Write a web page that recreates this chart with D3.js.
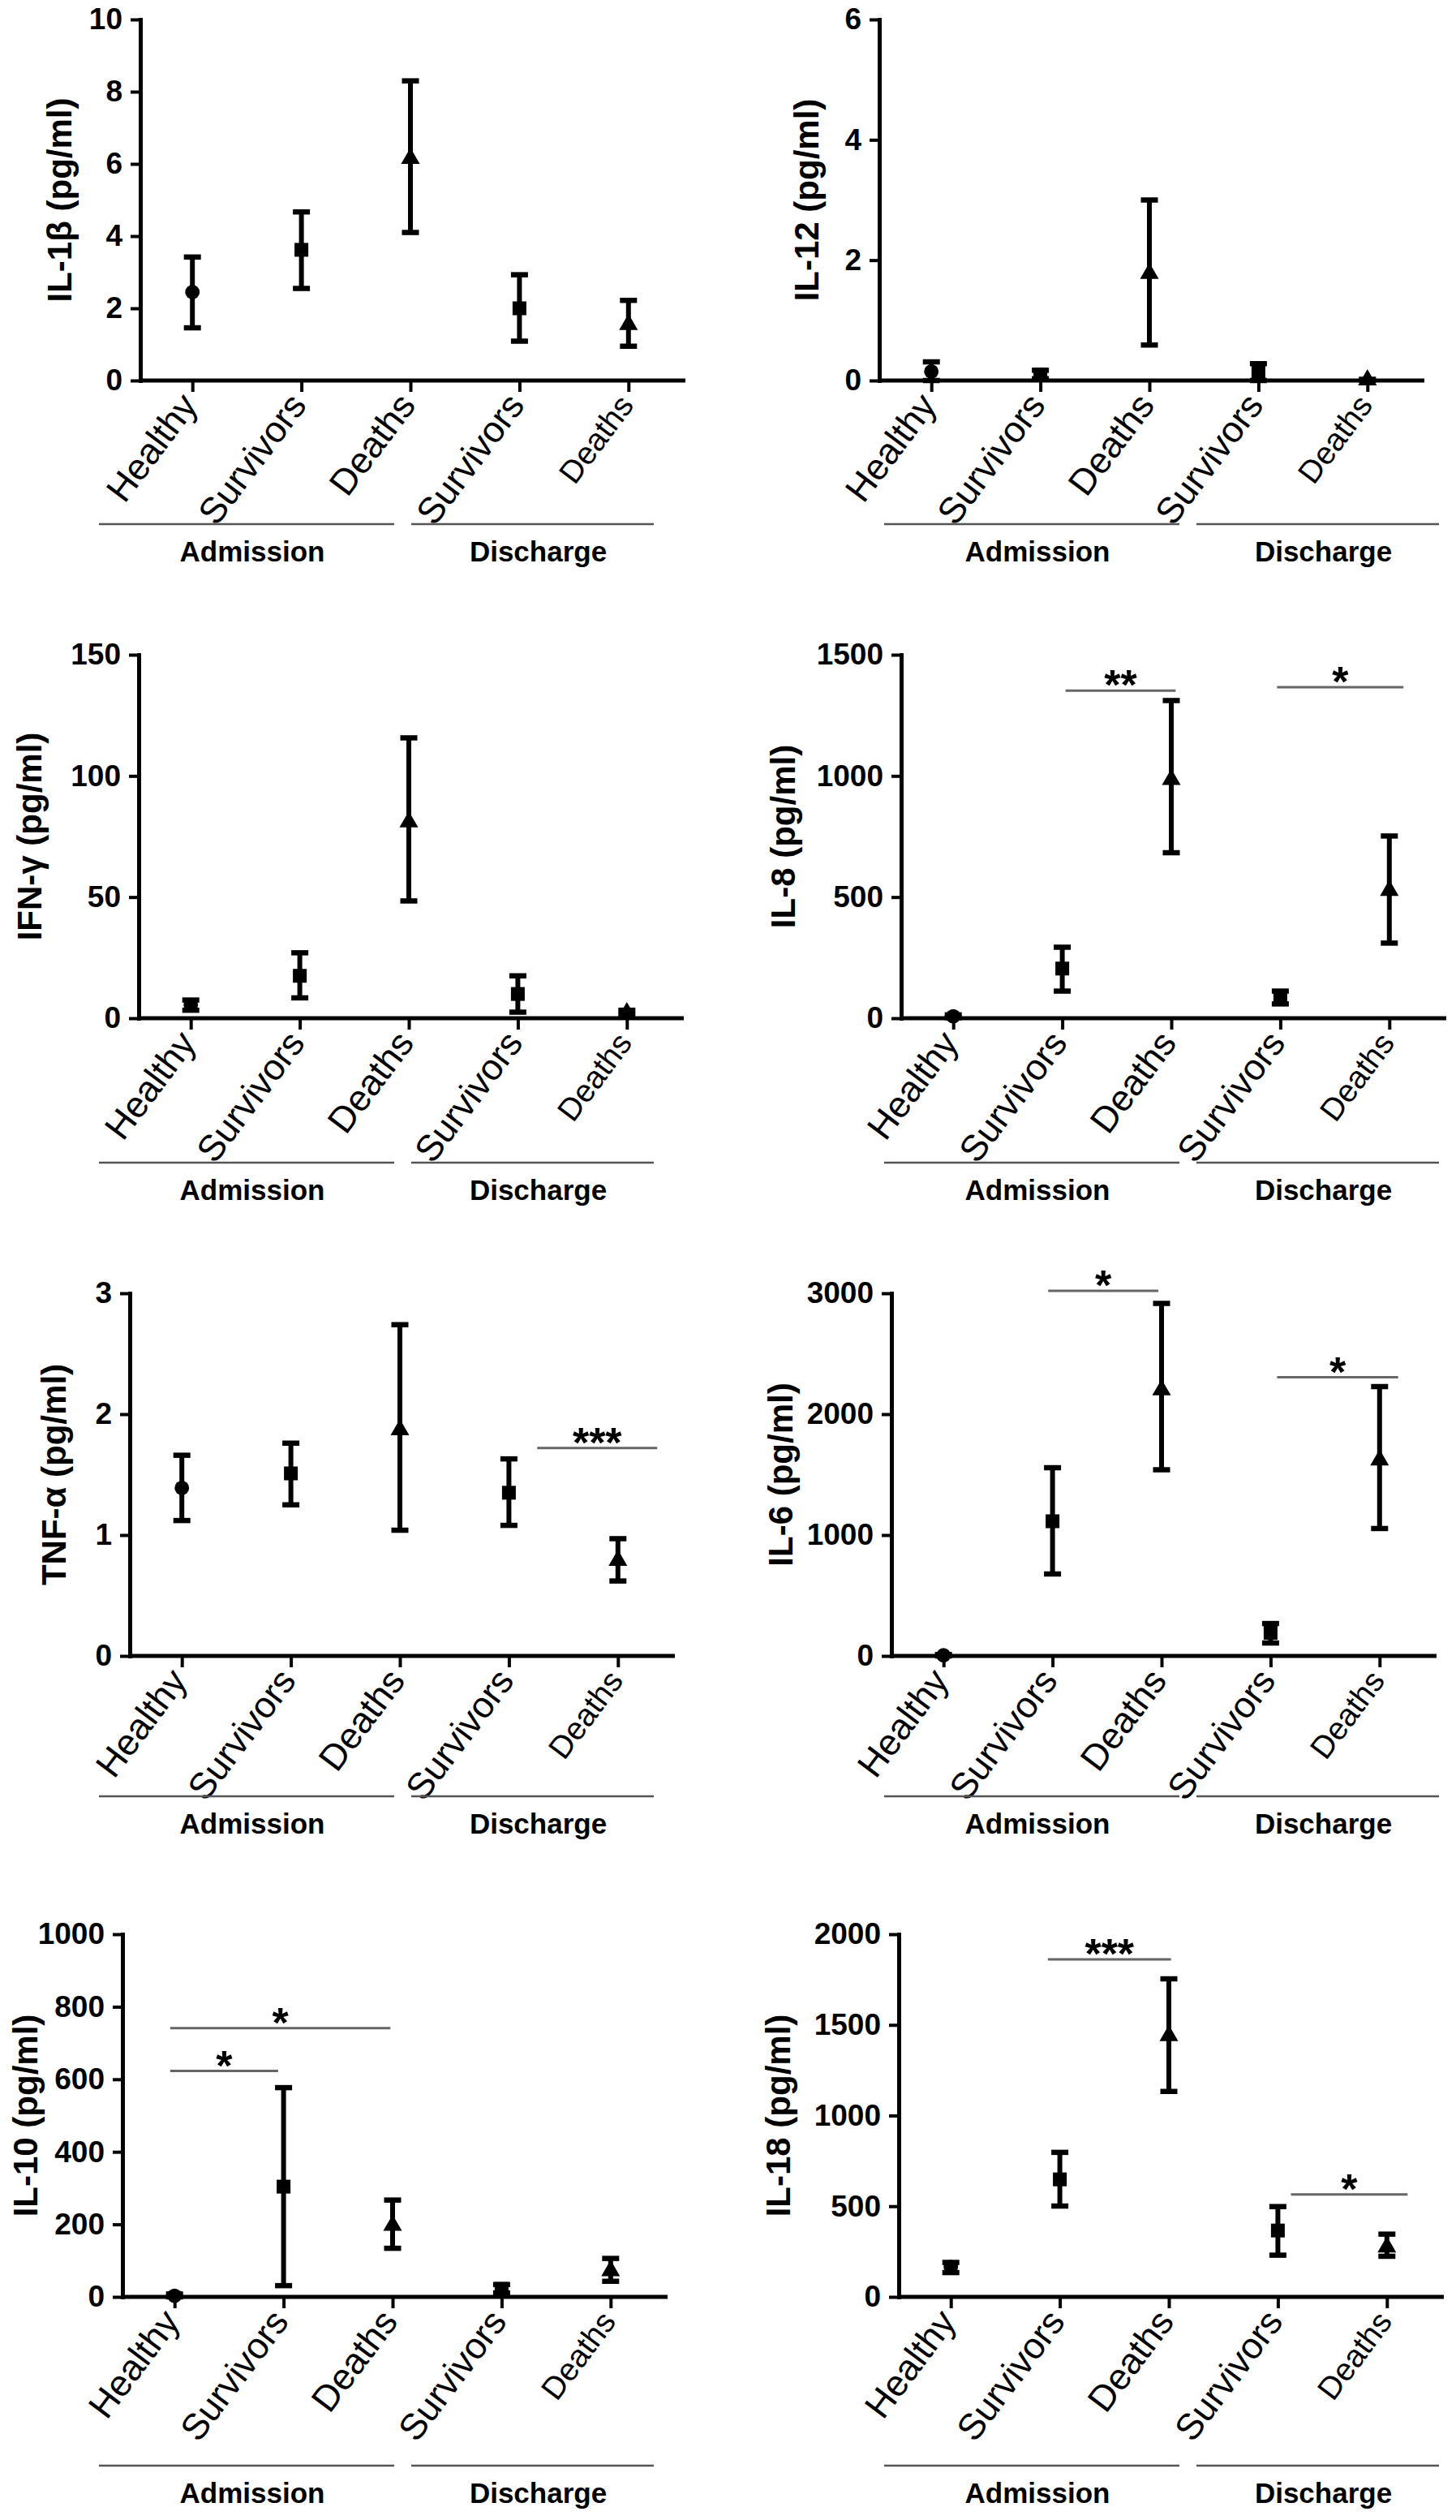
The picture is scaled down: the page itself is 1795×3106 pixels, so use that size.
<!DOCTYPE html>
<html>
<head>
<meta charset="utf-8">
<script src="https://cdn.jsdelivr.net/npm/d3@7"></script>
<style>
  body { margin: 0; background: #fff; }
  text { font-family: "Liberation Sans", Arial, sans-serif; fill: #000; }
</style>
</head>
<body>
<script>
// categories along every x axis
var categories = ["Healthy", "Survivors", "Deaths", "Survivors", "Deaths"];
var groupNames = ["Admission", "Discharge"];
var markerShapes = ["circle", "square", "triangle", "square", "triangle"];

// one entry per panel, reading order (left, right, left, right ...)
var yTitles = ["IL-1β (pg/ml)", "IL-12 (pg/ml)", "IFN-γ (pg/ml)", "IL-8 (pg/ml)",
               "TNF-α (pg/ml)", "IL-6 (pg/ml)", "IL-10 (pg/ml)", "IL-18 (pg/ml)"];
var yMax  = [10, 6, 150, 1500, 3, 3000, 1000, 2000];
var yStep = [2, 2, 50, 500, 1, 1000, 200, 500];

var means = [
  [2.45, 3.62, 6.15, 2.0, 1.55],
  [0.15, 0.1, 1.78, 0.13, 0.01],
  [5.5, 17.5, 81, 10, 2.2],
  [8, 205, 985, 88, 527],
  [1.39, 1.51, 1.87, 1.35, 0.79],
  [5, 1114, 2200, 191, 1620],
  [3, 304, 197, 22, 72],
  [165, 648, 1440, 366, 275]
];
var upper = [
  [3.42, 4.67, 8.3, 2.93, 2.22],
  [0.31, 0.17, 3.0, 0.28, 0.02],
  [7.5, 27, 115.7, 17.5, 3.3],
  [14, 293, 1311, 112, 752],
  [1.66, 1.76, 2.74, 1.63, 0.97],
  [12, 1557, 2916, 268, 2228],
  [8, 577, 267, 34, 106],
  [190, 797, 1754, 498, 346]
];
var lower = [
  [1.46, 2.55, 4.1, 1.09, 0.95],
  [0, 0.03, 0.59, 0, 0],
  [3.3, 8.4, 48.4, 2.5, 1.3],
  [2, 112, 683, 59, 310],
  [1.12, 1.25, 1.04, 1.08, 0.62],
  [0, 678, 1540, 107, 1054],
  [0, 31, 134, 11, 43],
  [134, 501, 1133, 230, 224]
];

// significance bars: [from category, to category, y value, label]
var sigBars = [
  [],
  [],
  [],
  [[1.03, 2.04, 1352, "**"], [2.97, 4.13, 1366, "*"]],
  [[3.26, 4.36, 1.72, "***"]],
  [[0.96, 1.97, 3020, "*"], [3.06, 4.17, 2305, "*"]],
  [[-0.04, 0.95, 623, "*"], [-0.04, 1.98, 741, "*"]],
  [[0.89, 2.02, 1861, "***"], [3.12, 4.19, 565, "*"]]
];

// layout (pixels)
var W = 1795, H = 3106;
var axisX  = [173, 1084, 171, 1111, 160, 1099, 151, 1108];
var titleX = [73, 994, 36, 965, 66, 962, 31, 959];
var rowTop  = [24, 807, 1594, 2384];
var rowZero = [469, 1255, 2041, 2831];
var groupLineY = [646, 1433, 2214, 3039];
var colOffset = [0, 968];
var groupExtent = [[122, 486], [507, 806]];
var plotWidth = 672;

var svg = d3.select("body").append("svg")
    .attr("width", W)
    .attr("height", H);

yTitles.forEach(function(title, p) {
  var row = Math.floor(p / 2), col = p % 2;
  var g = svg.append("g");

  var x = d3.scalePoint()
      .domain(d3.range(categories.length))
      .range([axisX[p] - 3, axisX[p] + plotWidth - 3])
      .padding(0.5);
  var step = x.step();
  var xPos = function(f) { return x(0) + f * step; };

  var y = d3.scaleLinear()
      .domain([0, yMax[p]])
      .range([rowZero[row], rowTop[row]]);

  // y axis
  var yAxis = d3.axisLeft(y)
      .tickValues(d3.range(0, yMax[p] + yStep[p] / 2, yStep[p]))
      .tickSize(12)
      .tickSizeOuter(0)
      .tickPadding(10)
      .tickFormat(d3.format("d"));
  var ya = g.append("g")
      .attr("transform", "translate(" + axisX[p] + ",0)")
      .call(yAxis);
  ya.select(".domain").attr("stroke", "#000").attr("stroke-width", 5).attr("stroke-linecap", "square");
  ya.selectAll(".tick line").attr("stroke", "#000").attr("stroke-width", 4);
  ya.selectAll(".tick text")
      .attr("font-family", "Liberation Sans, Arial, sans-serif")
      .attr("font-size", 37)
      .attr("font-weight", "bold")
      .attr("fill", "#000");

  // x axis: line from the y axis to the end of the plot, ticks at categories
  var xAxis = d3.axisBottom(x)
      .tickSize(14)
      .tickSizeOuter(0)
      .tickFormat("");
  var xa = g.append("g")
      .attr("transform", "translate(0," + rowZero[row] + ")")
      .call(xAxis);
  xa.select(".domain")
      .attr("d", "M" + axisX[p] + ",0H" + (axisX[p] + plotWidth))
      .attr("stroke", "#000").attr("stroke-width", 5);
  xa.selectAll(".tick line").attr("stroke", "#000").attr("stroke-width", 4);

  // rotated category labels
  g.selectAll(".cat")
      .data(categories)
      .enter()
      .append("text")
      .attr("class", "cat")
      .attr("text-anchor", "end")
      .attr("font-size", function(d, i) { return i === 4 ? 39 : 45; })
      .attr("transform", function(d, i) {
        return "translate(" + (x(i) + 8) + "," + (rowZero[row] + 31) + ") rotate(-53)";
      })
      .text(function(d) { return d; });

  // y title
  g.append("text")
      .attr("transform", "translate(" + titleX[p] + "," + ((rowTop[row] + rowZero[row]) / 2) + ") rotate(-90)")
      .attr("text-anchor", "middle")
      .attr("dy", "0.36em")
      .attr("font-size", 42)
      .attr("font-weight", "bold")
      .text(title);

  // group lines and labels
  groupNames.forEach(function(name, k) {
    var x0 = colOffset[col] + groupExtent[k][0];
    var x1 = colOffset[col] + groupExtent[k][1];
    g.append("line")
        .attr("x1", x0).attr("x2", x1)
        .attr("y1", groupLineY[row]).attr("y2", groupLineY[row])
        .attr("stroke", "#555").attr("stroke-width", 2.5);
    g.append("text")
        .attr("x", (x0 + x1) / 2 + 7)
        .attr("y", groupLineY[row] + 46)
        .attr("text-anchor", "middle")
        .attr("font-size", 35)
        .attr("font-weight", "bold")
        .text(name);
  });

  // error bars
  var idx = d3.range(categories.length);
  g.selectAll(".err")
      .data(idx)
      .enter()
      .append("line")
      .attr("x1", function(i) { return x(i); })
      .attr("x2", function(i) { return x(i); })
      .attr("y1", function(i) { return y(upper[p][i]); })
      .attr("y2", function(i) { return y(lower[p][i]); })
      .attr("stroke", "#000").attr("stroke-width", 6);
  [upper[p], lower[p]].forEach(function(arr) {
    g.selectAll(null)
        .data(idx)
        .enter()
        .append("line")
        .attr("x1", function(i) { return x(i) - 10.5; })
        .attr("x2", function(i) { return x(i) + 10.5; })
        .attr("y1", function(i) { return y(arr[i]); })
        .attr("y2", function(i) { return y(arr[i]); })
        .attr("stroke", "#000").attr("stroke-width", 6.5);
  });

  // markers
  var symbolFor = { circle: d3.symbolCircle, square: d3.symbolSquare, triangle: d3.symbolTriangle };
  var sizeFor = { circle: 250, square: 290, triangle: 230 };
  g.selectAll(".mark")
      .data(idx)
      .enter()
      .append("path")
      .attr("d", function(i) {
        return d3.symbol().type(symbolFor[markerShapes[i]]).size(sizeFor[markerShapes[i]])();
      })
      .attr("transform", function(i) { return "translate(" + x(i) + "," + y(means[p][i]) + ")"; })
      .attr("fill", "#000");

  // significance bars
  sigBars[p].forEach(function(s) {
    var sy = y(s[2]);
    g.append("line")
        .attr("x1", xPos(s[0])).attr("x2", xPos(s[1]))
        .attr("y1", sy).attr("y2", sy)
        .attr("stroke", "#666").attr("stroke-width", 3);
    g.append("text")
        .attr("x", (xPos(s[0]) + xPos(s[1])) / 2)
        .attr("y", sy + 11)
        .attr("text-anchor", "middle")
        .attr("font-size", 52)
        .attr("font-weight", "bold")
        .text(s[3]);
  });
});
</script>
</body>
</html>
